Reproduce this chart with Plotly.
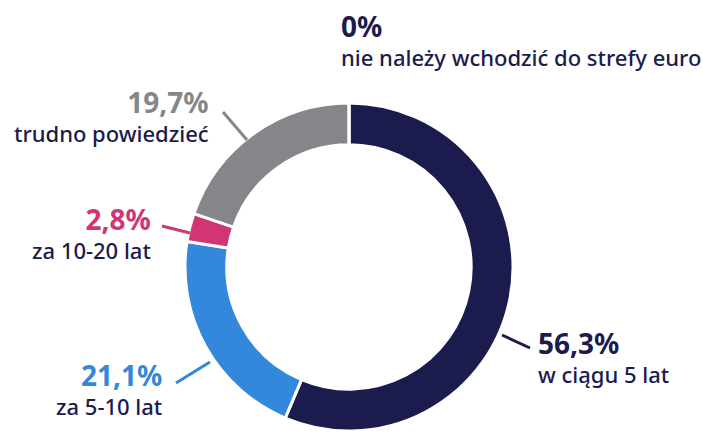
import plotly.graph_objects as go

# ---- data ----
categories = ["w ciągu 5 lat", "za 5-10 lat", "za 10-20 lat", "trudno powiedzieć",
              "nie należy wchodzić do strefy euro"]
values = [56.3, 21.1, 2.8, 19.7, 0.0]
value_labels = ["56,3%", "21,1%", "2,8%", "19,7%", "0%"]

# ---- style ----
colors = ["#1b1b4d", "#3488db", "#d13573", "#85868a", "#1b1b4d"]
text_color = "#1b1b4d"
W, H = 703, 435
FONT = "Noto Sans"

# label layout (pixel positions): (x, y of value, y of category, anchor)
label_pos = [
    (537, 340, 372, "left"),
    (163, 373, 404, "right"),
    (152, 218, 247, "right"),
    (210, 100, 131, "right"),
    (340, 22, 57, "left"),
]
# leader lines (pixel positions), None for no line
leaders = [
    ((502, 335), (530, 348)),
    ((210, 362), (176, 383)),
    ((190, 233), (162, 226)),
    ((247, 140), (223, 112)),
    None,
]

def px(x):
    return x / W

def py(y):
    return 1 - y / H

cx, cy, r = 349, 267, 164

fig = go.Figure(go.Pie(
    labels=categories,
    values=values,
    sort=False,
    direction="clockwise",
    rotation=0,
    hole=0.745,
    textinfo="none",
    hoverinfo="label+percent",
    marker=dict(colors=colors, line=dict(color="white", width=3)),
    domain=dict(x=[px(cx - r), px(cx + r)], y=[py(cy + r), py(cy - r)]),
    showlegend=False,
))

annotations = []
shapes = []
for i, (cat, vl) in enumerate(zip(categories, value_labels)):
    x, yv, yc, anchor = label_pos[i]
    vcol = colors[i] if i != 4 else text_color
    annotations.append(dict(
        x=px(x), y=py((yv + yc) / 2), xref="paper", yref="paper",
        text=(f"<span style='font-size:28px;color:{vcol}'><b>{vl}</b></span>"
              f"<br>{cat}"),
        showarrow=False, xanchor=anchor, yanchor="middle", align=anchor,
        borderpad=0,
        font=dict(family=FONT, size=22, color=text_color, weight=500),
    ))
    if leaders[i] is not None:
        (x0, y0), (x1, y1) = leaders[i]
        shapes.append(dict(
            type="line", xref="paper", yref="paper",
            x0=px(x0), y0=py(y0), x1=px(x1), y1=py(y1),
            line=dict(color=colors[i], width=3),
        ))

fig.update_layout(
    width=W, height=H,
    margin=dict(l=0, r=0, t=0, b=0),
    paper_bgcolor="white",
    plot_bgcolor="white",
    annotations=annotations,
    shapes=shapes,
)

fig.write_html("out.html", config={"displayModeBar": False},
               post_script="document.body.style.margin='0';")
